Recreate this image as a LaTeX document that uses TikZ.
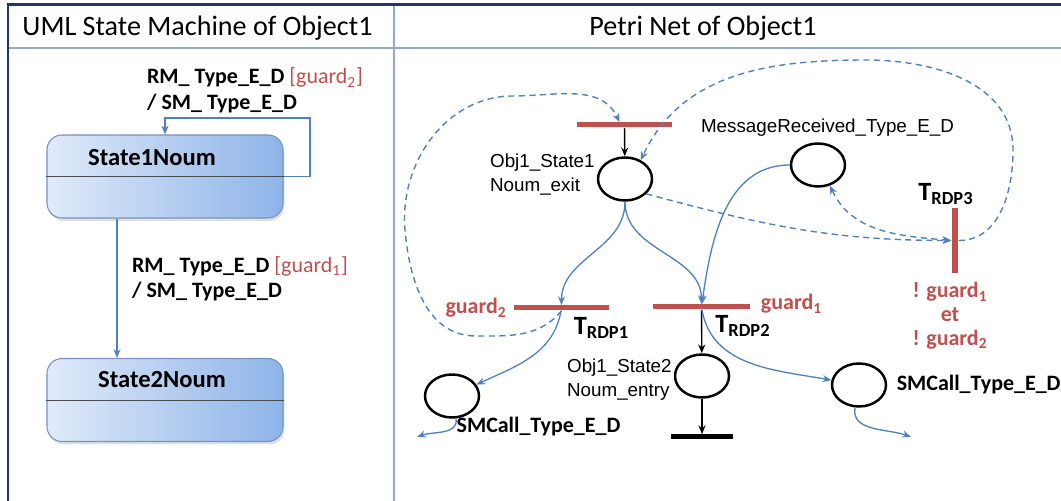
\documentclass[tikz,border=0pt]{standalone}
\usepackage{fontspec}
\setmainfont{Carlito}
\newfontfamily\arialfont{Liberation Sans}
\usetikzlibrary{positioning,arrows.meta,shapes.geometric,shadows}

\definecolor{pnred}{RGB}{192,80,77}
\definecolor{pnblue}{RGB}{79,129,189}
\definecolor{framenavy}{RGB}{31,56,100}
\definecolor{gridline}{RGB}{149,168,200}
\definecolor{stateleft}{RGB}{224,234,249}
\definecolor{stateright}{RGB}{141,180,232}
\definecolor{stateborder}{RGB}{118,146,190}

\newcommand{\trdp}[1]{{\fontsize{15}{18}\selectfont\bfseries T}\raisebox{-2.5pt}{\fontsize{10.5}{12}\selectfont\bfseries RDP#1}}

\begin{document}
\begin{tikzpicture}[
  header/.style={font=\fontsize{16}{19}\selectfont},
  state/.style={rectangle, rounded corners=0.3cm, draw=stateborder, line width=0.6pt,
    left color=stateleft, right color=stateright,
    minimum width=4.72cm, minimum height=1.66cm,
    drop shadow={opacity=0.25, shadow xshift=0.03cm, shadow yshift=-0.06cm}},
  statename/.style={font=\fontsize{14}{17}\selectfont\bfseries},
  smlabel/.style={font=\fontsize{12.5}{14.5}\selectfont\bfseries, align=left, anchor=west, inner sep=1pt},
  smarrow/.style={pnblue, line width=0.75pt, -{Stealth[length=5pt,width=4pt]}},
  place/.style={ellipse, draw, line width=1.4pt, minimum width=1.08cm, minimum height=0.86cm, inner sep=0pt},
  hbar/.style={rectangle, fill=pnred, inner sep=0pt, minimum height=0.1cm},
  vbar/.style={rectangle, fill=pnred, inner sep=0pt, minimum width=0.13cm, minimum height=1.3cm},
  plabel/.style={font=\arialfont\fontsize{10.7}{13.6}\selectfont, align=left, inner sep=1pt},
  smcall/.style={font=\fontsize{12.5}{15}\selectfont\bfseries, inner sep=1pt},
  guardlabel/.style={pnred, font=\fontsize{12.5}{13.6}\selectfont\bfseries, inner sep=1pt},
  tlabel/.style={inner sep=0pt},
  pnarc/.style={pnblue, line width=0.75pt, -{Stealth[length=5pt,width=4pt]}},
  blackarc/.style={black, line width=0.8pt, -{Stealth[length=5pt,width=4pt]}},
  dasharc/.style={pnblue, line width=0.8pt, dash pattern=on 3.5pt off 2.5pt, -{Stealth[length=5pt,width=4pt]}}
]
  \useasboundingbox (0,0) rectangle (21.22,10.02);

  % cadre du tableau
  \draw[gridline, line width=0.6pt] (0.16,9.06) -- (21.22,9.06);
  \draw[gridline, line width=0.6pt] (7.88,9.92) -- (7.88,0);
  \draw[framenavy, line width=1.7pt] (0.16,0) -- (0.16,9.92) -- (21.22,9.92);

  \node[header] (hleft) at (3.95,9.46) {UML State Machine of Object1};
  \node[header] (hright) at (14.06,9.46) {Petri Net of Object1};

  % --- machine a etats UML ---
  \node[state] (s1) at (3.3,6.49) {};
  \draw[black!70, line width=0.5pt] (s1.west) -- (s1.east);
  \node[statename] (s1n) at (3.04,6.86) {State1Noum};

  \node[state] (s2) at (3.3,2.02) {};
  \draw[black!70, line width=0.5pt] (s2.west) -- (s2.east);
  \node[statename] (s2n) at (3.24,2.42) {State2Noum};

  \coordinate (loop1) at (6.2,7.66);
  \draw[smarrow] (s1.east) -| (loop1) -| (s1.north);
  \draw[smarrow] ([xshift=-0.96cm]s1.south) -- ([xshift=-0.96cm]s2.north);

  \node[smlabel] (l1) at (2.9,8.21)
    {RM\_ Type\_E\_D {\mdseries\color{pnred}[guard\textsubscript{2}]}\\/ SM\_ Type\_E\_D};
  \node[smlabel] (l2) at (2.6,4.44)
    {RM\_ Type\_E\_D {\mdseries\color{pnred}[guard\textsubscript{1}]}\\/ SM\_ Type\_E\_D};

  % --- reseau de Petri ---
  \node[hbar, minimum width=1.9cm] (t0) at (12.49,7.52) {};
  \node[place] (p1) at (12.5,6.44) {};
  \node[plabel, left=0pt of p1, yshift=0.08cm] (p1l) {Obj1\_State1\\Noum\_exit};
  \node[place] (p2) at (16.36,6.72) {};
  \node[plabel] (p2l) at (16.55,7.46) {MessageReceived\_Type\_E\_D};

  \node[hbar, minimum width=1.9cm] (t1) at (11.23,3.86) {};
  \node[hbar, minimum width=1.94cm] (t2) at (14.03,3.88) {};
  \node[vbar] (t3) at (19.1,5.21) {};
  \node[guardlabel, left=0.1cm of t1] (g2) {guard\textsubscript{2}};
  \node[guardlabel, right=0.17cm of t2, yshift=0.06cm] (g1) {guard\textsubscript{1}};
  \node[tlabel] (t1l) at (12.02,3.46) {\trdp{1}};
  \node[tlabel] (t2l) at (14.85,3.5) {\trdp{2}};
  \node[tlabel] (t3l) at (18.91,6.14) {\trdp{3}};
  \node[guardlabel, align=center] (g3) at (19.0,3.7)
    {! guard\textsubscript{1}\\et\\! guard\textsubscript{2}};

  \node[place] (p3) at (14.04,2.5) {};
  \node[plabel, left=0pt of p3, yshift=-0.08cm] (p3l) {Obj1\_State2\\Noum\_entry};
  \node[hbar, fill=black, minimum width=1.24cm] (tb) at (14.04,1.28) {};

  \node[place] (p4) at (9.04,2.1) {};
  \node[smcall] (p4l) at (10.77,1.48) {SMCall\_Type\_E\_D};
  \node[place] (p5) at (17.18,2.32) {};
  \node[smcall, right=0.15cm of p5] (p5l) {SMCall\_Type\_E\_D};
  \coordinate (out4) at (8.34,1.28);
  \coordinate (out5) at (18.22,1.28);

  % arcs pleins
  \draw[blackarc] (t0) -- (p1);
  \draw[blackarc] (t2) -- (p3);
  \draw[blackarc] (p3) -- (tb);
  \draw[pnarc] (p1.south) to[out=-90,in=90] (t1);
  \draw[pnarc] (p1.south) to[out=-90,in=90] (t2);
  \draw[pnarc] (p2.west) to[out=180,in=82] (t2);
  \draw[pnarc] (t1) to[out=-100,in=25] (p4);
  \draw[pnarc] (t2) to[out=-80,in=170] (p5);
  \draw[pnarc] (p4) to[out=-80,in=20] (out4);
  \draw[pnarc] (p5) to[out=-100,in=160] (out5);

  % arcs en pointilles
  \draw[dasharc] (t1.south) to[out=-130,in=0] (9.52,3.3) to[out=180,in=-85] (8.1,5.42)
    to[out=95,in=180] (10.26,8.1) to[out=0,in=115] ([xshift=-1mm]t0.north);
  \draw[dasharc] (t3.east) to[out=0,in=-90] (20.26,7.02) to[out=90,in=0] (17.32,8.82)
    to[out=180,in=65] (p1.50);
  \draw[dasharc] (p1.-35) to[out=-15,in=180] (t3.west);
  \draw[dasharc, {Stealth[length=5pt,width=4pt]}-{Stealth[length=5pt,width=4pt]}] (p2.-60) to[out=-65,in=175] (t3.west);

\end{tikzpicture}
\end{document}
